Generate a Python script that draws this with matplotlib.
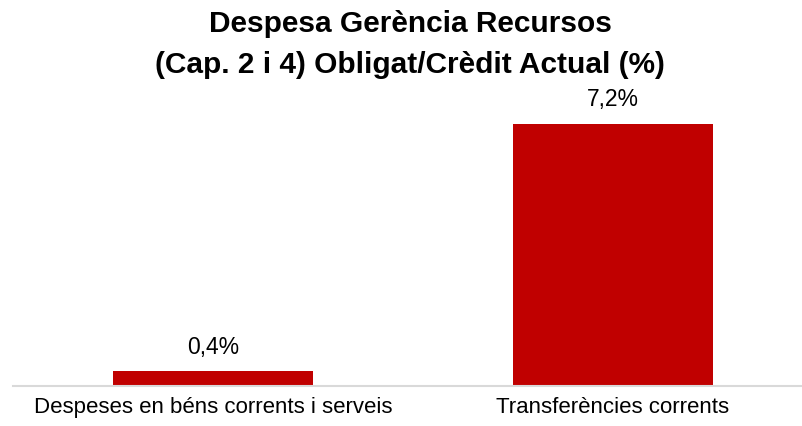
import matplotlib
matplotlib.use("Agg")
import matplotlib.pyplot as plt

categories = ["Despeses en béns corrents i serveis", "Transferències corrents"]
values = [0.4, 7.2]
value_labels = ["0,4%", "7,2%"]
title = "Despesa Gerència Recursos\n(Cap. 2 i 4) Obligat/Crèdit Actual (%)"

plt.rcParams["font.family"] = ["Liberation Sans", "DejaVu Sans"]

fig = plt.figure(figsize=(8.02, 4.26), dpi=100)
ax = fig.add_axes([13 / 802, 40 / 426, 789 / 802, 291 / 426])

x = range(len(categories))
ax.bar(x, values, width=0.5, color="#C00000")

for xi, v, lab in zip(x, values, value_labels):
    ax.annotate(lab, (xi, v), xytext=(0, 17.8), textcoords="offset pixels",
                ha="center", va="baseline", fontsize=16.5, color="#000000")

ax.set_xlim(-0.5, 1.4725)
ax.set_ylim(0, 8)
ax.set_xticks(list(x))
ax.set_xticklabels(categories, fontsize=16)
ax.tick_params(axis="x", length=0, pad=8)
ax.set_yticks([])

for side in ["top", "right", "left"]:
    ax.spines[side].set_visible(False)
ax.spines["bottom"].set_color("#D9D9D9")
ax.spines["bottom"].set_linewidth(1.5)

fig.text(410 / 802, 1 - 10 / 426, title, ha="center", va="top",
         fontsize=21.5, fontweight="bold", linespacing=1.6)

fig.savefig("out.png", dpi=100)
